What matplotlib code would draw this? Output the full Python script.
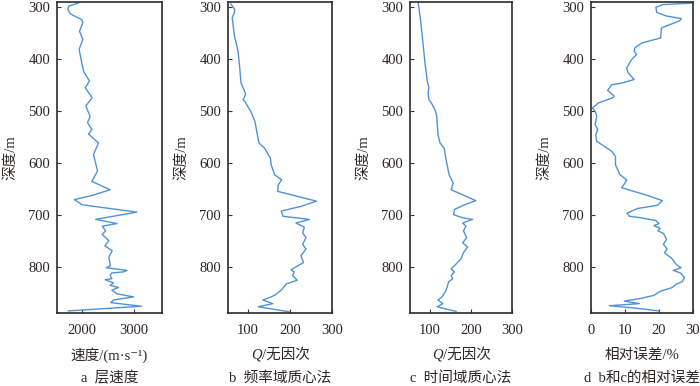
import numpy as np
import matplotlib
matplotlib.use('Agg')
import matplotlib.pyplot as plt

plt.rcParams['font.family'] = ['Liberation Serif', 'Noto Sans CJK SC', 'DejaVu Sans']

# a: interval velocity vs depth
depth_a = [292, 298, 305, 313, 324, 330, 346, 362, 381, 401, 423, 442, 455, 474, 490,
           510, 522, 535, 544, 561, 583, 615, 635, 651, 662, 670, 680, 694, 708, 716,
           721, 730, 737, 749, 759, 768, 781, 797, 801, 806, 809, 811, 815, 822, 824,
           830, 835, 839, 844, 851, 857, 863, 868, 875, 884]
vel_a = [1935, 1742, 1730, 1780, 2000, 2019, 1955, 2019, 1948, 1987, 2032, 2148, 2065, 2200, 2077,
         2161, 2110, 2194, 2129, 2323, 2226, 2303, 2194, 2548, 2200, 1854, 2010, 3064, 2267, 2680,
         2395, 2460, 2395, 2522, 2446, 2586, 2522, 2554, 2471, 2873, 2805, 2580, 2547, 2580, 2450,
         2612, 2547, 2709, 2580, 2676, 3000, 2612, 2560, 3150, 1740]

# b: Q, frequency-domain centroid method
depth_b = [294, 304, 311, 320, 353, 385, 417, 446, 462, 468, 478, 481, 500, 519, 545,
           561, 571, 590, 603, 622, 632, 641, 654, 673, 683, 692, 702, 708, 715, 723,
           734, 743, 756, 765, 778, 791, 805, 809, 816, 825, 832, 844, 854, 857, 863,
           870, 876, 886]
q_b = [59, 68, 67, 62, 67, 76, 80, 83, 92, 94, 88, 92, 106, 116, 122,
       126, 139, 153, 155, 163, 180, 172, 170, 263, 226, 179, 183, 246, 214, 234,
       230, 238, 230, 238, 226, 232, 202, 210, 206, 217, 191, 179, 163, 155, 135,
       159, 124, 200]

# c: Q, time-domain centroid method
depth_c = [292, 327, 365, 404, 442, 455, 465, 478, 484, 500, 510, 545, 561, 571, 590,
           622, 638, 651, 672, 680, 689, 699, 705, 708, 715, 721, 730, 743, 753, 761,
           772, 784, 797, 803, 809, 816, 822, 828, 844, 857, 863, 870, 876, 885]
q_c = [72, 78, 83, 88, 94, 98, 96, 98, 104, 114, 117, 120, 125, 135, 139,
       147, 157, 152, 212, 184, 160, 158, 180, 204, 180, 188, 182, 190, 180, 192,
       182, 176, 160, 152, 160, 152, 156, 146, 140, 130, 120, 132, 118, 164]

# d: relative error between b and c
depth_d = [292, 295, 300, 310, 317, 322, 326, 340, 359, 369, 378, 385, 391, 401, 417,
           426, 439, 446, 449, 460, 471, 474, 484, 494, 500, 510, 526, 535, 545, 558,
           564, 577, 587, 603, 622, 632, 640, 647, 662, 672, 681, 687, 696, 702, 705,
           710, 716, 720, 725, 730, 735, 746, 756, 765, 772, 784, 795, 801, 806, 811,
           820, 828, 833, 839, 846, 854, 860, 865, 870, 874, 879, 884]
err_d = [30, 21.2, 19.1, 19.3, 22.2, 26.6, 26.1, 20.7, 20.5, 14.9, 12.9, 12.7, 13.4, 11.9, 10.5,
         10.9, 12.7, 9.0, 6.1, 4.9, 6.8, 6.5, 2.2, 0.4, 1.2, 1.7, 1.2, 2.0, 1.4, 1.7,
         3.1, 6.1, 7.2, 7.2, 8.5, 10.5, 9.8, 9.0, 16.6, 21.0, 19.5, 13.7, 10.6, 11.3, 14.7,
         19.0, 20.0, 18.5, 20.3, 19.7, 21.3, 22.2, 21.3, 22.4, 21.6, 23.9, 25.1, 26.5, 24.2, 26.3,
         27.5, 26.8, 24.9, 23.9, 20.5, 18.5, 14.7, 9.8, 14.2, 5.4, 13.6, 20.0]

panels = [
    (depth_a, vel_a, (1520, 3550), [2000, 3000], '速度/(m·s⁻¹)', 'a  层速度', 57, 162),
    (depth_b, q_b, (52, 297), [100, 200, 300], None, 'b  频率域质心法', 228, 332),
    (depth_c, q_c, (52, 297), [100, 200, 300], None, 'c  时间域质心法', 410, 512),
    (depth_d, err_d, (0, 30), [0, 10, 20, 30], '相对误差/%', 'd  b和c的相对误差', 591, 693),
]

W, H = 700, 386
fig = plt.figure(figsize=(W / 100, H / 100), dpi=100)
line_color = '#4f93d6'
text_color = '#2e2624'
top_px, bot_px = 2, 313

for depth, vals, xlim, xticks, xlabel, title, x0, x1 in panels:
    ax = fig.add_axes([x0 / W, (H - bot_px) / H, (x1 - x0) / W, (bot_px - top_px) / H])
    ax.plot(vals, depth, color=line_color, lw=1.0)
    ax.set_xlim(*xlim)
    ax.set_ylim(888, 290)
    ax.set_xticks(xticks)
    ax.set_yticks([300, 400, 500, 600, 700, 800])
    ax.tick_params(direction='in', length=3, width=0.8, color='#333333',
                   labelsize=10.5, labelcolor=text_color, pad=5)
    ax.tick_params(axis='x', pad=8)
    for s in ax.spines.values():
        s.set_linewidth(1.2)
        s.set_color('#2b2b2b')
    ax.annotate('深度/m', xy=(0, 0.5), xycoords='axes fraction', xytext=(-47, 0),
                textcoords='offset pixels', rotation=90, ha='center', va='center',
                fontsize=10.5, color=text_color)
    if xlabel is not None:
        ax.annotate(xlabel, xy=(0.5, 0), xycoords='axes fraction', xytext=(0, -42),
                    textcoords='offset pixels', ha='center', va='center',
                    fontsize=10.5, color=text_color)
    else:
        ax.annotate('Q', xy=(0.5, 0), xycoords='axes fraction', xytext=(-18, -42),
                    textcoords='offset pixels', ha='right', va='center',
                    fontsize=10.5, style='italic', color=text_color,
                    family=['Liberation Serif'])
        ax.annotate('/无因次', xy=(0.5, 0), xycoords='axes fraction', xytext=(-18, -42),
                    textcoords='offset pixels', ha='left', va='center',
                    fontsize=10.5, color=text_color)
    ax.annotate(title, xy=(0.5, 0), xycoords='axes fraction', xytext=(0, -65),
                textcoords='offset pixels', ha='center', va='center',
                fontsize=10.5, color=text_color)

fig.savefig('out.png', dpi=100)
